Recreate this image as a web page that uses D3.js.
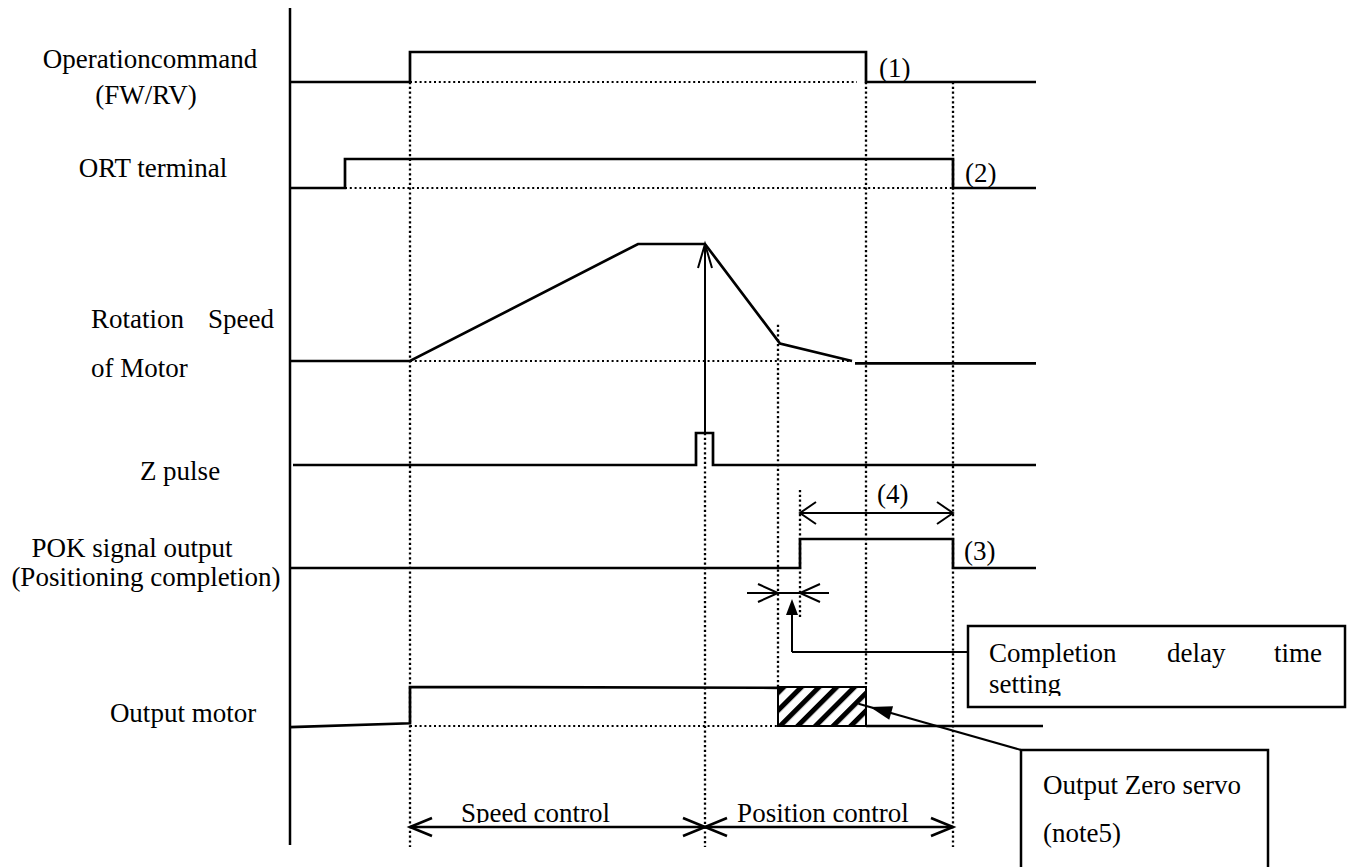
<!DOCTYPE html>
<html><head><meta charset="utf-8">
<script src="https://cdn.jsdelivr.net/npm/d3@7"></script>
<style>
body{margin:0;background:#fff}
svg{display:block}
</style>
</head><body>
<svg id="c" width="1351" height="867"></svg>
<script>
// ---------------- data (time units, signal levels) ----------------
const opCommand   = [[0,0],[120,0],[120,1],[576,1],[576,0],[746,0]];
const ortTerminal = [[0,0],[55,0],[55,1],[663,1],[663,0],[746,0]];
const motorSpeed  = [[0,0],[120,0],[348,100],[415,100],[490,15],[562,0]];
const motorSpeedTail = [[565,-2],[746,-2]];
const zPulse      = [[3,0],[406,0],[406,1],[423,1],[423,0],[746,0]];
const pokSignal   = [[0,0],[510,0],[510,1],[663,1],[663,0],[746,0]];
const outputMotor = [[0,-0.03],[120,0.07],[120,1],[488,0.98]];
const outputMotorTail = [[576,0],[753,0]];
const zeroServo   = [488,576];          // hatched interval
const speedCtrl   = [120,415];
const posCtrl     = [415,663];
const pokWindow   = [510,663];           // (4)
const delayWindow = [488,510];           // completion delay
const rowLabels = ["Operationcommand","(FW/RV)","ORT terminal","Rotation","Speed","of Motor",
                   "Z pulse","POK signal output","(Positioning completion)","Output motor"];
const marks = ["(1)","(2)","(3)","(4)"];
const phaseLabels = ["Speed control","Position control"];
const noteBox1 = ["Completion","delay","time","setting"];
const noteBox2 = ["Output Zero servo","(note5)"];

// ---------------- scales ----------------
const x = d3.scaleLinear().domain([0,746]).range([290,1036]);
const y = {
  op:    d3.scaleLinear().domain([0,1]).range([82,52]),
  ort:   d3.scaleLinear().domain([0,1]).range([188,159]),
  speed: d3.scaleLinear().domain([0,100]).range([361,244]),
  z:     d3.scaleLinear().domain([0,1]).range([465,433]),
  pok:   d3.scaleLinear().domain([0,1]).range([568,539]),
  motor: d3.scaleLinear().domain([0,1]).range([726,687])
};
const bottomY = 847;
const FONT = "'Liberation Serif','DejaVu Serif','Noto Serif','Times New Roman',serif";

const svg = d3.select("#c");
svg.append("rect").attr("width",1351).attr("height",867).attr("fill","#fff");

const defs = svg.append("defs");
const pat = defs.append("pattern").attr("id","hatch").attr("patternUnits","userSpaceOnUse")
  .attr("width",12.5).attr("height",12.5).attr("patternTransform","rotate(45)");
pat.append("rect").attr("width",12.5).attr("height",12.5).attr("fill","#fff");
pat.append("rect").attr("width",5).attr("height",12.5).attr("fill","#000");
defs.append("clipPath").attr("id","clipSet").append("rect").attr("x",960).attr("y",600).attr("width",400).attr("height",96);
defs.append("clipPath").attr("id","clipSpeed").append("rect").attr("x",400).attr("y",780).attr("width",300).attr("height",43);

// ---------------- dotted guides ----------------
const dotV = [
  [120, y.op(0), bottomY],
  [415, y.z(1), bottomY],
  [488, y.speed(31), y.motor(1)],
  [510, 490, 617],
  [576, y.op(0), y.motor(1)],
  [663, y.op(0), bottomY]
];
svg.append("g").selectAll("line").data(dotV).join("line")
  .attr("x1",d=>x(d[0])).attr("x2",d=>x(d[0])).attr("y1",d=>d[1]).attr("y2",d=>d[2])
  .attr("stroke","#000").attr("stroke-width",2.3).attr("stroke-dasharray","2.2,2.6");
const dotH = [
  [120,567,y.op(0)],
  [55,663,y.ort(0)],
  [120,562,y.speed(0)],
  [120,488,y.motor(0)]
];
svg.append("g").selectAll("line").data(dotH).join("line")
  .attr("x1",d=>x(d[0])).attr("x2",d=>x(d[1])).attr("y1",d=>d[2]).attr("y2",d=>d[2])
  .attr("stroke","#000").attr("stroke-width",2).attr("stroke-dasharray","2,2.8");

// ---------------- axis ----------------
svg.append("line").attr("x1",x(0)).attr("x2",x(0)).attr("y1",8).attr("y2",845)
  .attr("stroke","#000").attr("stroke-width",2.5);

// ---------------- waveforms ----------------
const wave = (data, ys) => d3.line().x(d=>x(d[0])).y(d=>ys(d[1]))(data);
const waves = [
  [opCommand,y.op],[ortTerminal,y.ort],[motorSpeed,y.speed],[motorSpeedTail,y.speed],
  [zPulse,y.z],[pokSignal,y.pok],[outputMotor,y.motor],[outputMotorTail,y.motor]
];
svg.append("g").selectAll("path").data(waves).join("path")
  .attr("d",d=>wave(d[0],d[1])).attr("fill","none").attr("stroke","#000")
  .attr("stroke-width",2.7).attr("stroke-linejoin","miter");

// hatched zero servo
svg.append("rect").attr("x",x(zeroServo[0])).attr("y",y.motor(1))
  .attr("width",x(zeroServo[1])-x(zeroServo[0])).attr("height",y.motor(0)-y.motor(1))
  .attr("fill","url(#hatch)").attr("stroke","#000").attr("stroke-width",2);

// ---------------- arrows ----------------
function openHead(g,px,py,ang,L,W,sw){
  const c=Math.cos(ang), s=Math.sin(ang);
  const p1=[px - L*c + W*s, py - L*s - W*c];
  const p2=[px - L*c - W*s, py - L*s + W*c];
  g.append("path").attr("d",`M${p1[0]},${p1[1]}L${px},${py}L${p2[0]},${p2[1]}`)
   .attr("fill","none").attr("stroke","#000").attr("stroke-width",sw);
}
function filledHead(g,px,py,ang,L,W){
  const c=Math.cos(ang), s=Math.sin(ang);
  const p1=[px - L*c + W*s, py - L*s - W*c];
  const p2=[px - L*c - W*s, py - L*s + W*c];
  g.append("path").attr("d",`M${p1[0]},${p1[1]}L${px},${py}L${p2[0]},${p2[1]}Z`).attr("fill","#000");
}
const ag = svg.append("g");
function seg(x1,y1,x2,y2,sw){ag.append("line").attr("x1",x1).attr("y1",y1).attr("x2",x2).attr("y2",y2).attr("stroke","#000").attr("stroke-width",sw);}

// Z pulse -> peak speed
const zx = x(415);
seg(zx, y.z(1), zx, y.speed(100), 2);
openHead(ag, zx, y.speed(100), -Math.PI/2, 24, 7, 2);

// (4) window
const y4 = 513;
seg(x(pokWindow[0]), y4, x(pokWindow[1]), y4, 2);
openHead(ag, x(pokWindow[0]), y4, Math.PI, 16, 11, 2);
openHead(ag, x(pokWindow[1]), y4, 0, 16, 11, 2);

// delay window
const yd = 593;
seg(x(delayWindow[0])-31, yd, x(delayWindow[1])+29, yd, 2);
openHead(ag, x(delayWindow[0]), yd, 0, 20, 9, 2);
openHead(ag, x(delayWindow[1]), yd, Math.PI, 20, 9, 2);

// phase arrows
const yb = 827;
seg(x(speedCtrl[0]), yb, x(posCtrl[1]), yb, 2.6);
openHead(ag, x(speedCtrl[0]), yb, Math.PI, 22, 9, 2.6);
openHead(ag, x(speedCtrl[1]), yb, 0, 22, 9, 2.6);
openHead(ag, x(posCtrl[0]), yb, Math.PI, 22, 9, 2.6);
openHead(ag, x(posCtrl[1]), yb, 0, 22, 9, 2.6);

// note boxes
const box1 = {x0:968, y0:626, x1:1345, y1:707};
const box2 = {x0:1021, y0:750, x1:1268, y1:880};
ag.append("rect").attr("x",box1.x0).attr("y",box1.y0).attr("width",box1.x1-box1.x0).attr("height",box1.y1-box1.y0)
  .attr("fill","#fff").attr("stroke","#000").attr("stroke-width",2.5);
ag.append("rect").attr("x",box2.x0).attr("y",box2.y0).attr("width",box2.x1-box2.x0).attr("height",box2.y1-box2.y0)
  .attr("fill","#fff").attr("stroke","#000").attr("stroke-width",2.5);

// pointer: box1 -> delay
const px1 = 792, py1 = 652;
seg(box1.x0, py1, px1, py1, 2);
seg(px1, py1, px1, 612, 2);
filledHead(ag, px1, 599, -Math.PI/2, 16, 6);

// pointer: box2 -> hatched
const tipX = x(zeroServo[1])+4, tipY = 707;
const ang = Math.atan2(tipY-box2.y0, tipX-box2.x0);
seg(box2.x0, box2.y0, tipX + 12*Math.cos(ang), tipY + 12*Math.sin(ang), 2);
filledHead(ag, tipX, tipY, ang, 22, 7);

// ---------------- text ----------------
const tg = svg.append("g").attr("font-family",FONT).attr("font-size",27).attr("fill","#000");
function txt(s,tx,ty,anchor,clip){
  const t=tg.append("text").attr("x",tx).attr("y",ty).attr("text-anchor",anchor||"start")
    .style("font-family",FONT).text(s);
  if(clip) t.attr("clip-path",`url(#${clip})`);
  return t;
}
txt(rowLabels[0],150,68,"middle");
txt(rowLabels[1],146,104,"middle");
txt(rowLabels[2],153,177,"middle");
txt(rowLabels[3],91,328);
txt(rowLabels[4],208,328);
txt(rowLabels[5],91,377);
txt(rowLabels[6],180,480,"middle");
txt(rowLabels[7],132,557,"middle");
txt(rowLabels[8],146,586,"middle");
txt(rowLabels[9],183,722,"middle");

txt(marks[0],879,77);
txt(marks[1],965,182);
txt(marks[2],964,560);
txt(marks[3],877,503);

txt(phaseLabels[0],(x(speedCtrl[0])+x(speedCtrl[1]))/2-22,822,"middle","clipSpeed");
txt(phaseLabels[1],(x(posCtrl[0])+x(posCtrl[1]))/2-6,822,"middle");

txt(noteBox1[0],989,662);
txt(noteBox1[1],1167,662);
txt(noteBox1[2],1274,662);
txt(noteBox1[3],989,693,"start","clipSet");
txt(noteBox2[0],1043,794);
txt(noteBox2[1],1043,842);
</script>
</body></html>
